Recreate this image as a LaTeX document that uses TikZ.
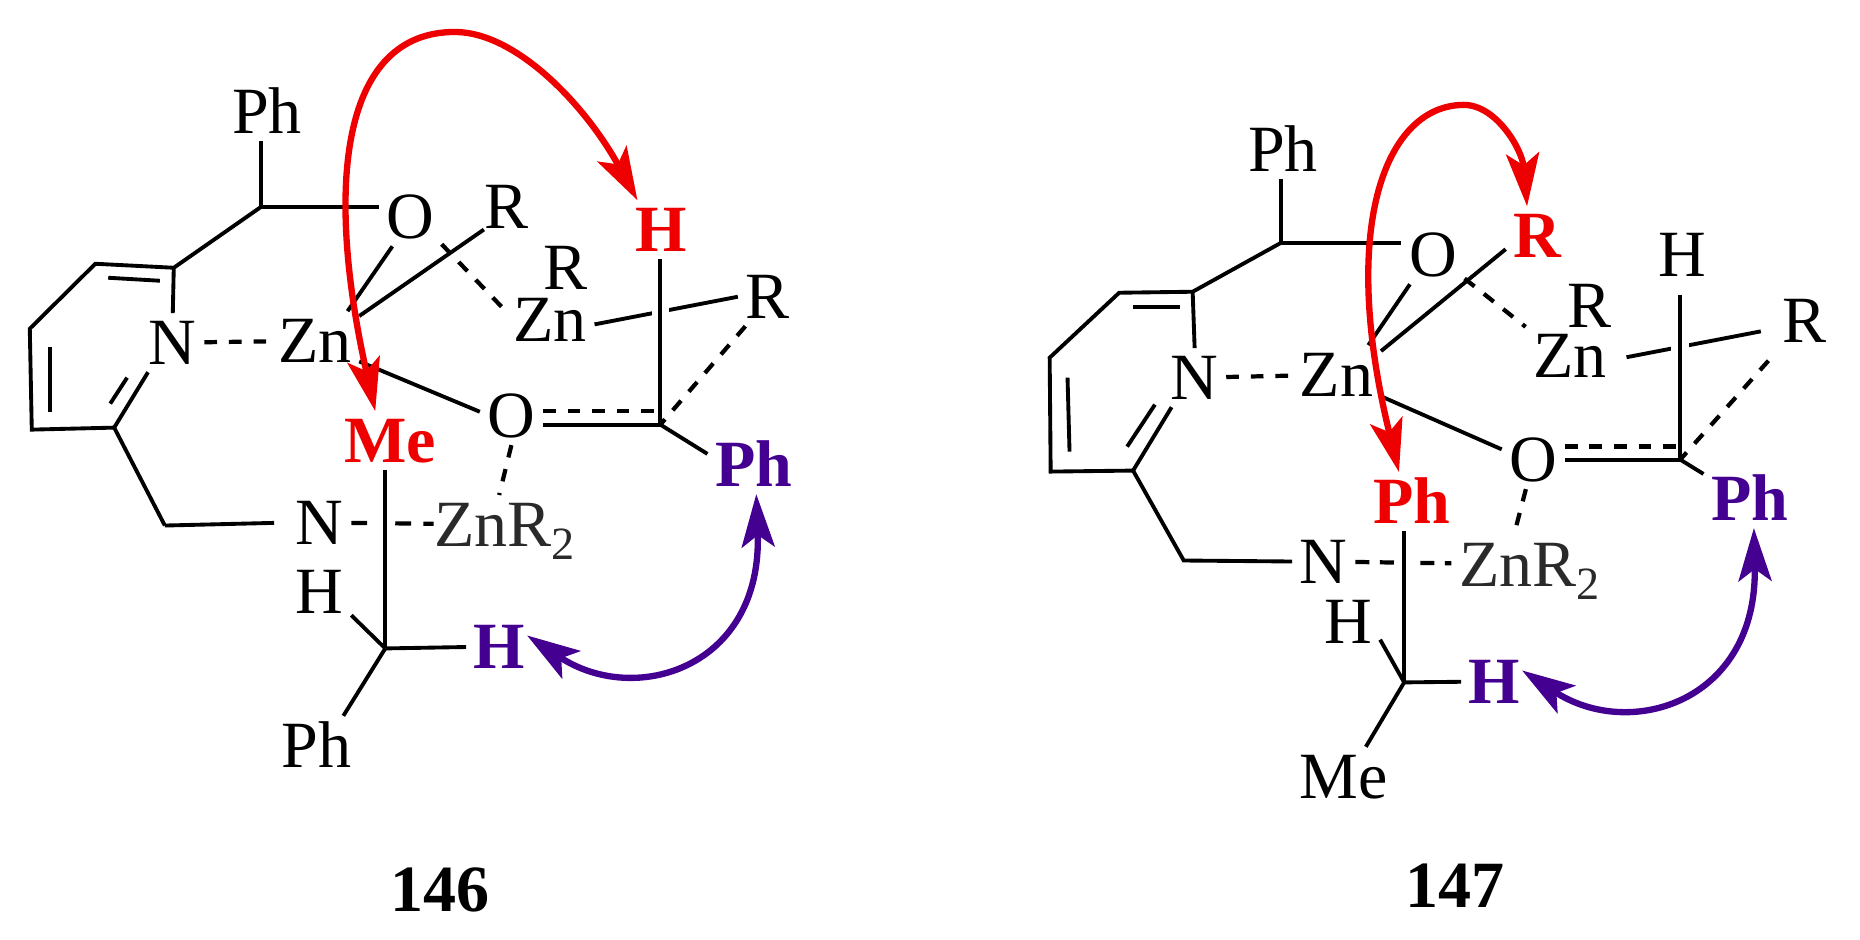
\documentclass[tikz,border=0pt]{standalone}
\usepackage{fontspec}
\setmainfont{Liberation Serif}
\usepackage{xcolor}
\usetikzlibrary{arrows.meta}
\definecolor{arrowred}{HTML}{EE0000}
\definecolor{arrowblue}{HTML}{440090}
\definecolor{zngrey}{HTML}{2A2A2A}
\tikzset{
  atom/.style={font=\fontsize{18.8}{20}\selectfont, inner sep=2pt, text height=12.4pt, text depth=0pt},
  boldatom/.style={atom, font=\fontsize{18.8}{20}\selectfont\bfseries},
  redatom/.style={boldatom, text=arrowred},
  blueatom/.style={boldatom, text=arrowblue},
  bond/.style={line width=1.1pt},
  dbond/.style={line width=1.2pt, dash pattern=on 3.6pt off 3.4pt},
  crossbond/.style={bond, preaction={draw=white, line width=5pt}},
  tipped/.style={<->, >={Stealth[length=5.3mm, width=3.3mm, inset=1.2mm]}, line width=1.8pt},
  redcurve/.style={tipped, draw=arrowred},
  bluecurve/.style={tipped, draw=arrowblue}
}
\begin{document}
\begin{tikzpicture}[x=0.00993cm, y=-0.01cm]
     \useasboundingbox (0,0) rectangle (1873.1,940);
     \node[atom] (aPh) at (269,112) {Ph};
     \node[atom] (aO) at (413,217) {O};
     \node[atom] (aR) at (510,207) {R};
     \node[atom] (aRb) at (570,268) {R};
     \node[atom] (aRc) at (773,297) {R};
     \node[atom] (aN) at (174,343) {N};
     \node[atom] (aZn) at (317,341) {Zn};
     \node[atom] (aZnb) at (554,320) {Zn};
     \node[atom] (aOb) at (515,416) {O};
     \node[atom] (aNb) at (322,523) {N};
     \node[atom, text=zngrey] (aZnc) at (509,525) {ZnR\raisebox{-1pt}{\textsubscript{2}}};
     \node[atom] (aHb) at (322,592) {H};
     \node[atom] (aPhb) at (319,746) {Ph};
     \node[redatom] (aH) at (666,230) {H};
     \node[redatom] (aMe) at (393,441) {Me};
     \node[blueatom] (aPhc) at (759,465) {Ph};
     \node[blueatom] (aHc) at (503,647) {H};
     \node[boldatom] (aLabel) at (443,890) {146};
     \coordinate (aC1) at (263,207);
     \coordinate (aC2) at (175,268);
     \coordinate (aC3) at (96,264);
     \coordinate (aC4) at (30,329);
     \coordinate (aC5) at (32,430);
     \coordinate (aC6) at (115,428);
     \coordinate (aC7) at (166,526);
     \coordinate (aC8) at (665,425);
     \coordinate (aC9) at (665,411);
     \coordinate (aC10) at (388,649);
     \coordinate (aD1) at (109,278);
     \coordinate (aD2) at (161,281);
     \coordinate (aD3) at (50,347);
     \coordinate (aD4) at (50,412);
     \coordinate (aD5) at (111,404);
     \coordinate (aD6) at (128,378);
     \coordinate (aTop) at (458,32);
     \draw[bond] (aC1 |- aPh.south) -- (aC1);
     \draw[bond] (aC1) -- (aC1 -| aO.west);
     \draw[bond] (aC1) -- (aC2) -- (aC3) -- (aC4) -- (aC5) -- (aC6);
     \draw[bond] (aC2) -- (aN.north);
     \draw[bond] (aC6) -- (aN.-130);
     \draw[bond] (aD1) -- (aD2);
     \draw[bond] (aD3) -- (aD4);
     \draw[bond] (aD5) -- (aD6);
     \draw[bond] (aC6) -- (aC7);
     \draw[bond, shorten >=4pt] (aC7) -- (aNb.west);
     \draw[dbond] (aN) -- (aZn);
     \draw[bond] (aZn.42) -- (aO.-121);
     \draw[bond, shorten >=-2.5pt] (aZn.29) -- (aR.-137);
     \draw[dbond] (aO.-41) -- (aZnb.169);
     \draw[bond] (aZn.-25) -- (aOb.173);
     \draw[bond] (aZnb.-6) -- (aRc.west);
     \draw[dbond, dash pattern=on 4.5pt off 8pt on 4.5pt off 3.5pt on 10pt, shorten >=-2pt] (aNb) -- (aZnc);
     \draw[crossbond] (aC8 |- aH.south) -- (aC8);
     \draw[crossbond] (aC10 |- aMe.south) -- (aC10);
     \draw[bond] (aC8 -| aOb.east) -- (aC8);
     \draw[dbond] (aC9 -| aOb.east) -- (aC9);
     \draw[dbond] (aRc.-127) -- (aC8);
     \draw[bond] (aC8) -- (aPhc.167);
     \draw[dbond] (aOb.south) -- (aZnc.102);
     \draw[bond] (aHb.-37) -- (aC10);
     \draw[bond] (aC10) -- (aHc);
     \draw[bond] (aC10) -- (aPhb.48);
     \draw[redcurve] (aMe.117) .. controls (326,182) and (345,32) .. (aTop) .. controls (520,32) and (590,106) .. (aH.129);
     \draw[bluecurve, shorten <=-2pt] (aHc.12) .. controls (640,708) and (768,668) .. (aPhc.-85);

     \begin{scope}[xshift=0.07cm]
     \node[atom] (bPh) at (1285,150) {Ph};
     \node[atom] (bO) at (1436,255) {O};
     \node[atom] (bH) at (1687,255) {H};
     \node[atom] (bRb) at (1594,306) {R};
     \node[atom] (bRc) at (1810,321) {R};
     \node[atom] (bN) at (1196,378) {N};
     \node[atom] (bZn) at (1339,375) {Zn};
     \node[atom] (bZnb) at (1574,356) {Zn};
     \node[atom] (bOb) at (1537,460) {O};
     \node[atom] (bNb) at (1326,562) {N};
     \node[atom, text=zngrey] (bZnc) at (1534,565) {ZnR\raisebox{-1pt}{\textsubscript{2}}};
     \node[atom] (bHb) at (1351,622) {H};
     \node[atom] (bMe) at (1346,777) {Me};
     \node[redatom] (bR) at (1541,236) {R};
     \node[redatom] (bPhd) at (1415,502) {Ph};
     \node[blueatom] (bPhc) at (1755,499) {Ph};
     \node[blueatom] (bHc) at (1498,682) {H};
     \node[boldatom] (bLabel) at (1458,886) {147};
     \coordinate (bC1) at (1283,243);
     \coordinate (bC2) at (1194,292);
     \coordinate (bC3) at (1120,293);
     \coordinate (bC4) at (1050,358);
     \coordinate (bC5) at (1051,472);
     \coordinate (bC6) at (1134,471);
     \coordinate (bC7) at (1185,561);
     \coordinate (bC8) at (1685,460);
     \coordinate (bC9) at (1685,447);
     \coordinate (bC10) at (1407,683);
     \coordinate (bD1) at (1134,307);
     \coordinate (bD2) at (1181,307);
     \coordinate (bD3) at (1068,378);
     \coordinate (bD4) at (1070,452);
     \coordinate (bD5) at (1128,447);
     \coordinate (bD6) at (1156,405);
     \coordinate (bTop) at (1467,105);
     \draw[bond] (bC1 |- bPh.south) -- (bC1);
     \draw[bond] (bC1) -- (bC1 -| bO.west);
     \draw[bond] (bC1) -- (bC2) -- (bC3) -- (bC4) -- (bC5) -- (bC6);
     \draw[bond] (bC2) -- (bN.north);
     \draw[bond] (bC6) -- (bN.-128);
     \draw[bond] (bD1) -- (bD2);
     \draw[bond] (bD3) -- (bD4);
     \draw[bond] (bD5) -- (bD6);
     \draw[bond] (bC6) -- (bC7) -- (bNb.west);
     \draw[dbond] (bN) -- (bZn);
     \draw[bond] (bZn.43) -- (bO.-128);
     \draw[bond] (bZn.28) -- (bR.-157);
     \draw[dbond] (bO.-37) -- (bZnb.147);
     \draw[bond] (bZn.-26) -- (bOb.162);
     \draw[bond, shorten <=3.5pt, shorten >=4pt] (bZnb.-5) -- (bRc.-165);
     \draw[dbond, dash pattern=on 4pt off 3pt on 4pt off 7.5pt on 4pt off 3pt on 5pt] (bNb) -- (bZnc);
     \draw[crossbond, shorten <=3pt] (bC8 |- bH.south) -- (bC8);
     \draw[crossbond] (bC10 |- bPhd.south) -- (bC10);
     \draw[bond] (bC8 -| bOb.east) -- (bC8);
     \draw[dbond] (bC9 -| bOb.east) -- (bC9);
     \draw[dbond, shorten <=4pt] (bRc.-132) -- (bC8);
     \draw[bond] (bC8) -- (bPhc.152);
     \draw[dbond] (bOb.-104) -- (bZnc.119);
     \draw[bond] (bHb.-30) -- (bC10);
     \draw[bond] (bC10) -- (bHc);
     \draw[bond] (bC10) -- (bMe.53);
     \draw[redcurve] (bPhd.114) .. controls (1340,223) and (1390,105) .. (bTop) .. controls (1500,105) and (1526,150) .. (bR.109);
     \draw[bluecurve, shorten <=-2pt] (bHc.12) .. controls (1635,742) and (1763,702) .. (bPhc.-82);
     \end{scope}
\end{tikzpicture}
\end{document}
